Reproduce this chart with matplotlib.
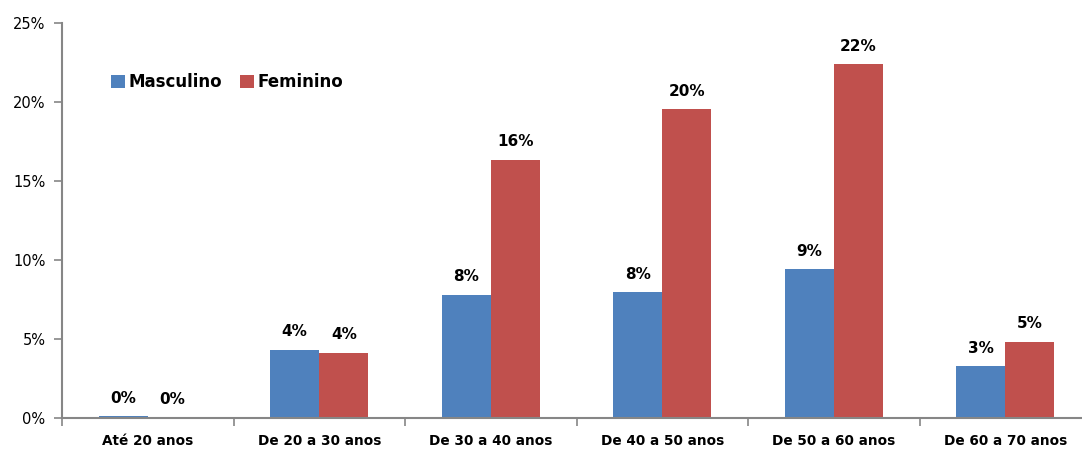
import matplotlib
matplotlib.use("Agg")
import matplotlib.pyplot as plt
import numpy as np
from matplotlib.patches import Patch

categories = ["Até 20 anos", "De 20 a 30 anos", "De 30 a 40 anos",
              "De 40 a 50 anos", "De 50 a 60 anos", "De 60 a 70 anos"]
masculino = [0.1, 4.3, 7.8, 7.95, 9.4, 3.25]
feminino = [0.0, 4.1, 16.35, 19.55, 22.4, 4.8]
series_names = ["Masculino", "Feminino"]
colors = ["#4F81BD", "#C0504D"]
y_ticks = [0, 5, 10, 15, 20, 25]

plt.rcParams["font.family"] = ["DejaVu Sans"]

fig = plt.figure(figsize=(10.82, 4.49), dpi=100)
ax = fig.add_axes([62 / 1082, 31.5 / 449, 1029 / 1082, 394.2 / 449])

x = np.arange(len(categories))
w = 1 / 3.5
b1 = ax.bar(x - w / 2, masculino, width=w, color=colors[0], edgecolor="none")
b2 = ax.bar(x + w / 2, feminino, width=w, color=colors[1], edgecolor="none")

for bars, vals in ((b1, masculino), (b2, feminino)):
    for rect, v in zip(bars, vals):
        ax.annotate(f"{v:.0f}%", (rect.get_x() + rect.get_width() / 2, v),
                    xytext=(0, 7.5), textcoords="offset points",
                    ha="center", va="bottom", fontsize=11, fontweight="bold",
                    color="black")

ax.set_xlim(-0.5, len(categories) - 0.5)
ax.set_ylim(0, 25)
ax.set_yticks(y_ticks)
ax.set_yticklabels([f"{t}%" for t in y_ticks], fontsize=10.5)

# category labels centred, tick marks on category boundaries
ax.set_xticks(x)
ax.set_xticklabels(categories, fontsize=9.8, fontweight="bold")
ax.tick_params(axis="x", which="major", length=0, pad=12)
ax.set_xticks(np.arange(-0.5, len(categories), 1), minor=True)
ax.tick_params(axis="x", which="minor", length=6, width=1.2, color="#868686",
               direction="out")
ax.tick_params(axis="y", length=6, width=1.2, color="#868686", direction="out",
               pad=6)

for s in ("top", "right"):
    ax.spines[s].set_visible(False)
for s in ("left", "bottom"):
    ax.spines[s].set_color("#868686")
    ax.spines[s].set_linewidth(1.5)

handles = [Patch(facecolor=c, edgecolor="none") for c in colors]
ax.legend(handles, series_names, loc="upper left", bbox_to_anchor=(0.041, 0.89),
          frameon=False, ncol=2, prop={"weight": "bold", "size": 12},
          handlelength=0.85, handleheight=0.8, handletextpad=0.2,
          columnspacing=1.1, borderaxespad=0)

fig.savefig("out.png", dpi=100)
